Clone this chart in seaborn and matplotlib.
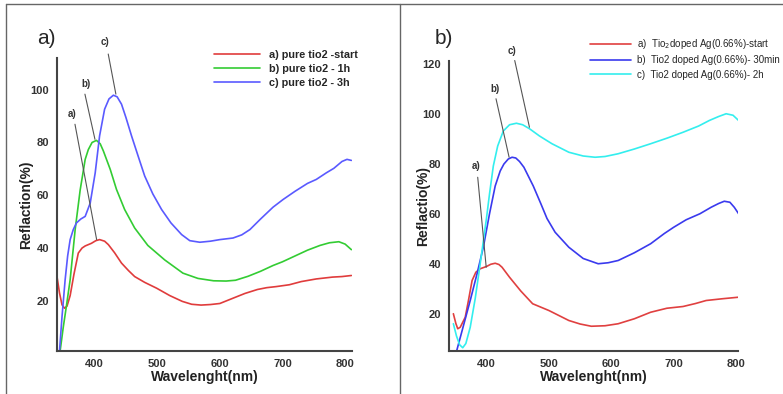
import pandas as pd
import matplotlib
matplotlib.use("Agg")
import matplotlib.pyplot as plt
import seaborn as sns
from matplotlib.lines import Line2D

# ---- panel a) pure TiO2 ----
wl_a_start = [340, 344, 348, 352, 356, 361, 367, 374, 380, 385, 395, 402, 408, 416, 422, 432, 443, 454, 464,
              480, 499, 520, 540, 555, 570, 585, 600, 621, 640, 660, 675, 690, 711, 730, 754, 780, 795, 810]
refl_a_start = [29.2, 23, 18.5, 17.2, 18, 22, 30, 38.1, 40, 40.8, 41.8, 42.8, 43.2, 42.6, 41.3, 38.2, 34.3, 31.5, 29.2,
                27, 24.8, 22, 19.8, 18.7, 18.4, 18.6, 19, 21, 22.8, 24.3, 25, 25.4, 26.1, 27.3, 28.3, 29, 29.2, 29.6]

wl_a_1h = [345, 350, 355, 361, 369, 377, 385, 390, 396, 403, 409, 414, 425, 435, 448, 464, 485, 512, 541, 565,
           590, 610, 625, 645, 665, 685, 700, 720, 740, 760, 775, 790, 800, 810]
refl_a_1h = [1, 10, 18, 28, 47, 62, 73.6, 77.3, 80, 80.8, 79.5, 76.8, 69.8, 62.2, 54.6, 47.6, 41, 35.5, 30.5, 28.5,
             27.6, 27.5, 27.8, 29.3, 31.2, 33.4, 34.8, 37, 39.2, 41, 42, 42.4, 41.5, 39.4]

wl_a_3h = [344, 348, 353, 357, 361, 366, 371, 378, 385, 393, 401, 408, 416, 423, 430, 436, 443, 450, 459,
           470, 480, 493, 507, 522, 539, 552, 568, 585, 600, 621, 635, 648, 665, 685, 701, 720, 740, 754,
           770, 782, 795, 803, 810]
refl_a_3h = [1, 14, 28, 37, 43.2, 47, 49.5, 51, 52, 57, 68.5, 82.5, 92.6, 96.5, 97.9, 97.3, 94.5, 89.5, 82.5,
             74.5, 67.3, 60.5, 54.6, 49.5, 45.1, 42.8, 42.2, 42.6, 43.2, 43.8, 45, 47, 51, 55.5, 58.4, 61.5,
             64.5, 66, 68.5, 70.2, 72.8, 73.6, 73.2]

labels_a = ["a) pure tio2 -start", "b) pure tio2 - 1h", "c) pure tio2 - 3h"]
colors_a = ["#e03c3c", "#33cc33", "#5a5aff"]

# ---- panel b) Ag doped TiO2 ----
wl_b_start = [347, 351, 354, 358, 362, 366, 371, 377, 383, 390, 400, 407, 414, 420, 425, 437, 455, 474, 500, 532,
              550, 568, 590, 611, 637, 663, 689, 715, 735, 752, 778, 803]
refl_b_start = [19.9, 16, 13.9, 14.5, 16.5, 18.5, 25, 33.2, 36.5, 37.9, 38.8, 39.7, 40.1, 39.6, 38.5, 34.5, 29, 23.9,
                21.2, 17.2, 15.8, 14.9, 15.1, 15.9, 17.9, 20.5, 22.1, 22.8, 24, 25.2, 25.9, 26.5]

wl_b_30min = [352, 363, 374, 385, 395, 405, 414, 422, 428, 435, 441, 447, 453, 460, 475, 487, 497, 510, 532, 555,
              579, 595, 611, 637, 663, 685, 700, 720, 742, 760, 772, 781, 790, 797, 804]
refl_b_30min = [4.8, 15, 25.2, 36, 46.5, 60, 71, 77, 79.8, 81.8, 82.5, 82.2, 80.8, 78.5, 71, 64, 58, 52.5, 46.5, 42,
                39.9, 40.3, 41.2, 44.3, 47.9, 52, 54.5, 57.5, 59.9, 62.5, 64, 64.9, 64.5, 62.5, 59.9]

wl_b_2h = [347, 352, 357, 362, 367, 374, 382, 390, 400, 405, 411, 418, 427, 437, 448, 458, 469, 485, 505,
           532, 555, 574, 590, 611, 637, 663, 690, 715, 740, 757, 772, 784, 795, 804]
refl_b_2h = [15.9, 11, 7.5, 6.3, 8, 14.5, 26, 39.9, 58, 68, 79, 87, 93, 95.5, 96.1, 95.5, 93.9, 91, 87.9,
             84.5, 83, 82.5, 82.8, 83.9, 85.8, 87.9, 90.2, 92.5, 95, 97.2, 98.8, 99.9, 99.3, 97.2]

labels_b = ["a)  Tio$_2$doped Ag(0.66%)-start", "b)  Tio2 doped Ag(0.66%)- 30min",
            "c)  Tio2 doped Ag(0.66%)- 2h"]
colors_b = ["#e04040", "#3a3aee", "#33eeee"]

# annotation leaders: (label, label x, label y, line start x, y, line end x, y)
notes_a = [("a)", 364, 90.7, 368.7, 86.9, 403.3, 43.2),
           ("b)", 387, 102, 384.6, 98.3, 400.6, 81.2),
           ("c)", 416.5, 118, 421.8, 113.5, 434, 98.3)]
notes_b = [("a)", 384, 79.2, 386, 74.5, 399.6, 38.5),
           ("b)", 413.7, 110, 415.3, 105.9, 436.3, 82.5),
           ("c)", 441.5, 125, 445.3, 121.2, 468.9, 94.5)]

xticks = [400, 500, 600, 700, 800]

sns.set_style("white")
plt.rcParams['font.family'] = ['Liberation Sans', 'DejaVu Sans']

fig = plt.figure(figsize=(7.83, 3.94), dpi=100)
ax1 = fig.add_axes([57/783, 43/394, 295/783, 293/394])
ax2 = fig.add_axes([449/783, 43/394, 289/783, 290/394])


def make_df(wls, refls, names):
    return pd.concat([pd.DataFrame({"wl": w, "refl": r, "sample": n})
                      for w, r, n in zip(wls, refls, names)], ignore_index=True)


df_a = make_df([wl_a_start, wl_a_1h, wl_a_3h], [refl_a_start, refl_a_1h, refl_a_3h], labels_a)
df_b = make_df([wl_b_start, wl_b_30min, wl_b_2h], [refl_b_start, refl_b_30min, refl_b_2h], labels_b)

sns.lineplot(data=df_a, x="wl", y="refl", hue="sample", hue_order=labels_a, palette=colors_a,
             estimator=None, sort=False, lw=1.2, legend=False, ax=ax1)
sns.lineplot(data=df_b, x="wl", y="refl", hue="sample", hue_order=labels_b, palette=colors_b,
             estimator=None, sort=False, lw=1.2, legend=False, ax=ax2)


def style(ax, xlim, ylim, yticks, ylabel, lpad):
    ax.set_xlim(xlim)
    ax.set_ylim(ylim)
    ax.set_xticks(xticks)
    ax.set_xticks(range(340, 811, 20), minor=True)
    ax.set_yticks(yticks)
    ax.set_yticks(range(5, int(ylim[1]) + 1, 5), minor=True)
    ax.tick_params(which='major', direction='inout', length=7, width=1.2, colors='#444',
                   labelsize=8, labelcolor='#333', pad=2)
    ax.tick_params(which='minor', direction='in', length=3, width=0.8, colors='#555')
    plt.setp(ax.get_xticklabels() + ax.get_yticklabels(), fontweight='bold')
    for s in ['top', 'right']:
        ax.spines[s].set_visible(False)
    for s in ['left', 'bottom']:
        ax.spines[s].set_color('#444')
        ax.spines[s].set_linewidth(1.5)
    ax.set_xlabel("Wavelenght(nm)", fontsize=10, fontweight='bold', color='#222', labelpad=1)
    ax.set_ylabel(ylabel, fontsize=10, fontweight='bold', color='#222', labelpad=lpad)


style(ax1, (340, 811), (1, 112), [20, 40, 60, 80, 100], "Reflaction(%)", -2)
style(ax2, (346, 803), (5, 121), [20, 40, 60, 80, 100, 120], "Reflactio(%)", -5)

for ax, notes in [(ax1, notes_a), (ax2, notes_b)]:
    for lab, tx, ty, x0, y0, x1, y1 in notes:
        ax.plot([x0, x1], [y0, y1], color='#555', lw=0.8, clip_on=False)
        ax.text(tx, ty, lab, fontsize=7, fontweight='bold', color='#333', ha='center', va='center')

ax1.legend(ax1.lines[:3], labels_a, loc='upper left', bbox_to_anchor=(214/783, 1 - 50/394),
           bbox_transform=fig.transFigure, frameon=False, prop={'weight': 'bold', 'size': 7.8},
           handlelength=4.2, handletextpad=0.85, labelspacing=0.35, borderpad=0, borderaxespad=0)
ax2.legend(ax2.lines[:3], labels_b, loc='upper left', bbox_to_anchor=(590/783, 1 - 37/394),
           bbox_transform=fig.transFigure, frameon=False, prop={'size': 7},
           handlelength=4.2, handletextpad=0.6, labelspacing=0.45, borderpad=0, borderaxespad=0)

fig.text(37/783, 1 - 39/394, "a)", fontsize=15, va='center', ha='left')
fig.text(435/783, 1 - 39/394, "b)", fontsize=15, va='center', ha='left')

# panel frames
for xs, ys in [([6/783, 1], [1 - 4/394, 1 - 4/394]),
               ([6/783, 6/783], [0, 1 - 4/394]),
               ([400/783, 400/783], [0, 1 - 4/394])]:
    fig.add_artist(Line2D(xs, ys, transform=fig.transFigure, color='#666', lw=1))

fig.savefig("out.png", dpi=100)
